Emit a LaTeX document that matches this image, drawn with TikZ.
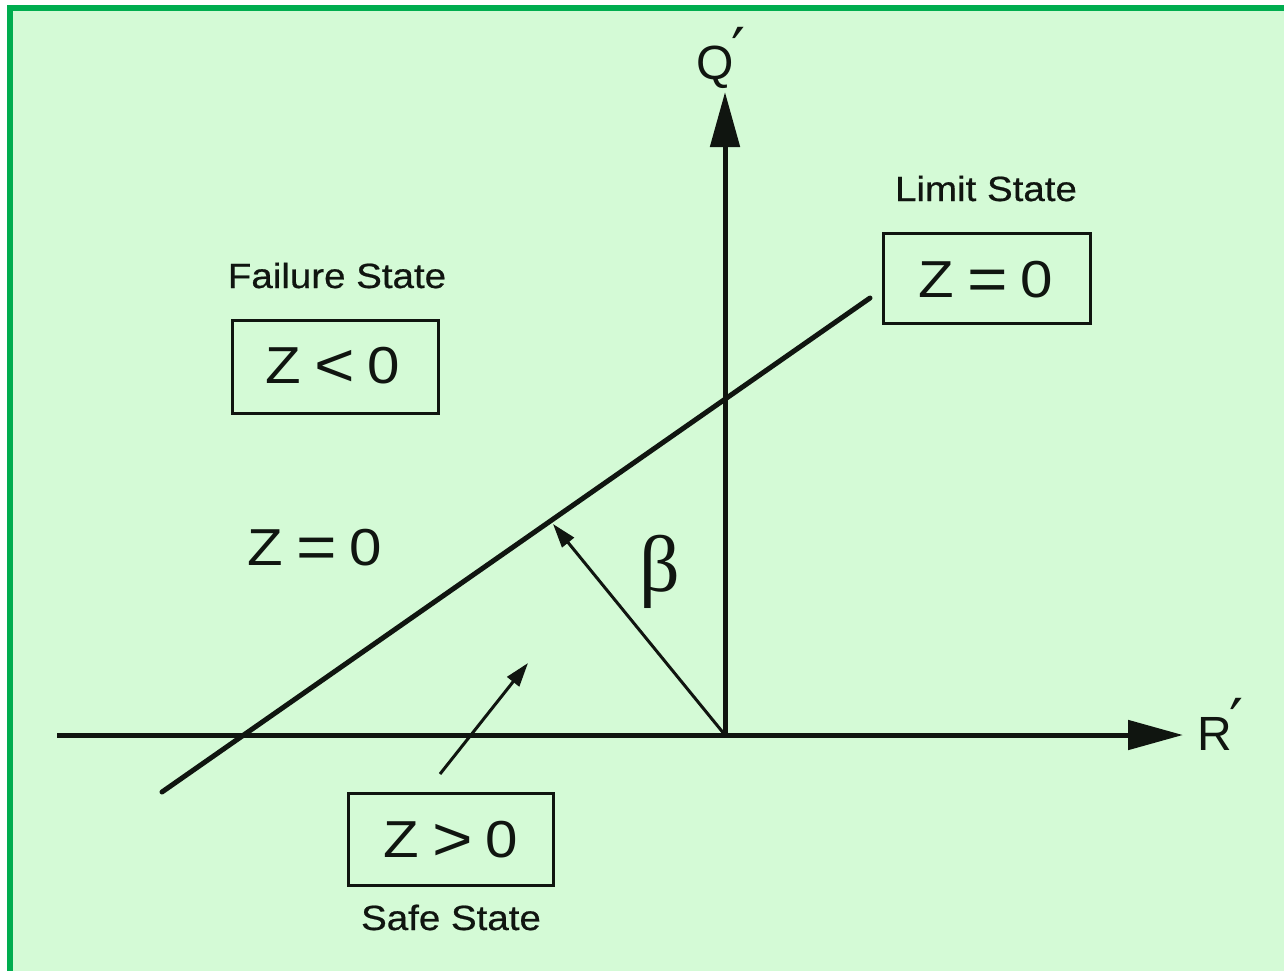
\documentclass[tikz,border=0pt]{standalone}
\usepackage{fontspec}
\setmainfont{Liberation Sans}
\newfontfamily\lab[FakeStretch=1.12]{Liberation Sans}
\newfontfamily\labb[FakeStretch=1.1,FakeBold=0.6]{Liberation Sans}
\newfontfamily\grk{Liberation Serif}
\newfontfamily\prm{DejaVu Sans}
\usetikzlibrary{arrows.meta}
\definecolor{bg}{HTML}{D4FAD6}
\definecolor{frame}{HTML}{00AD4F}
\definecolor{ink}{HTML}{101510}
\newcommand{\bigrel}[1]{\hspace{13pt}\raisebox{-3pt}{\fontsize{62}{62}\selectfont #1}\hspace{13pt}}
\newcommand{\prmark}{\raisebox{7pt}{\prm\fontsize{62}{62}\selectfont ′}}
\tikzset{
  axis/.style={line width=5pt, draw=ink, -{Triangle[length=55pt,width=29pt]}},
  limitline/.style={line width=5pt, draw=ink, line cap=round},
  smallarrow/.style={line width=3pt, draw=ink, -{Triangle[length=24pt,width=15pt]}},
  statebox/.style={draw=ink, line width=3pt, inner sep=0pt, minimum width=#1, text=ink},
  lbl/.style={font=\labb\fontsize{35}{40}\selectfont, text=ink, inner sep=0pt, anchor=base},
  ztext/.style={font=\lab\fontsize{52}{60}\selectfont, text=ink, inner sep=0pt, anchor=base},
  axlbl/.style={font=\fontsize{48}{56}\selectfont, text=ink, inner sep=0pt, anchor=base west}
}
\begin{document}
\begin{tikzpicture}[x=1pt,y=-1pt]
% background and frame
\fill[white] (0,0) rectangle (1284,971);
\fill[frame] (7,5) rectangle (1284,971);
\fill[bg] (13,11) rectangle (1284,971);
\useasboundingbox (0,0) rectangle (1284,971);

% coordinates
\coordinate (O) at (725,735);
\coordinate (xs) at (57,735);
\coordinate (xe) at (1183,735);
\coordinate (ye) at (725,92);
\coordinate (L1) at (162,792);
\coordinate (L2) at (870,298);
\coordinate (bf) at (553,524);
\coordinate (st) at (440,774);
\coordinate (se) at (528,663);

% boxes
\node[statebox=207pt, minimum height=90pt] (limbox) at (986.5,278) {};
\node[statebox=206pt, minimum height=93pt] (failbox) at (335,366.5) {};
\node[statebox=205pt, minimum height=92pt] (safebox) at (450.5,839) {};

% box texts
\node[ztext] (zlim) at (986,297) {Z\bigrel{=}0};
\node[ztext] (zfail) at (333,383) {Z\bigrel{<}0};
\node[ztext] (zsafe) at (451,857) {Z\bigrel{>}0};
\node[ztext] (zfree) at (315,565) {Z\bigrel{=}0};

% labels
\node[lbl] (limlbl) at (986,201) {Limit State};
\node[lbl] (faillbl) at (337,288) {Failure State};
\node[lbl] (safelbl) at (451,930) {Safe State};

% axes
\draw[axis] (xs) -- (xe);
\draw[axis] (O) -- (ye);
\node[axlbl] (rlbl) at (1197,750) {R\kern-2pt\prmark};
\node[axlbl] (qlbl) at (696,80) {Q\kern-2pt\prmark};

% limit line
\draw[limitline] (L1) -- (L2);

% beta arrow
\draw[smallarrow] (O) -- (bf);
\node[font=\grk\fontsize{80}{80}\selectfont, text=ink, inner sep=0pt] (beta) at (660,572) {β};

% safe arrow
\draw[smallarrow] (st) -- (se);
\end{tikzpicture}
\end{document}
